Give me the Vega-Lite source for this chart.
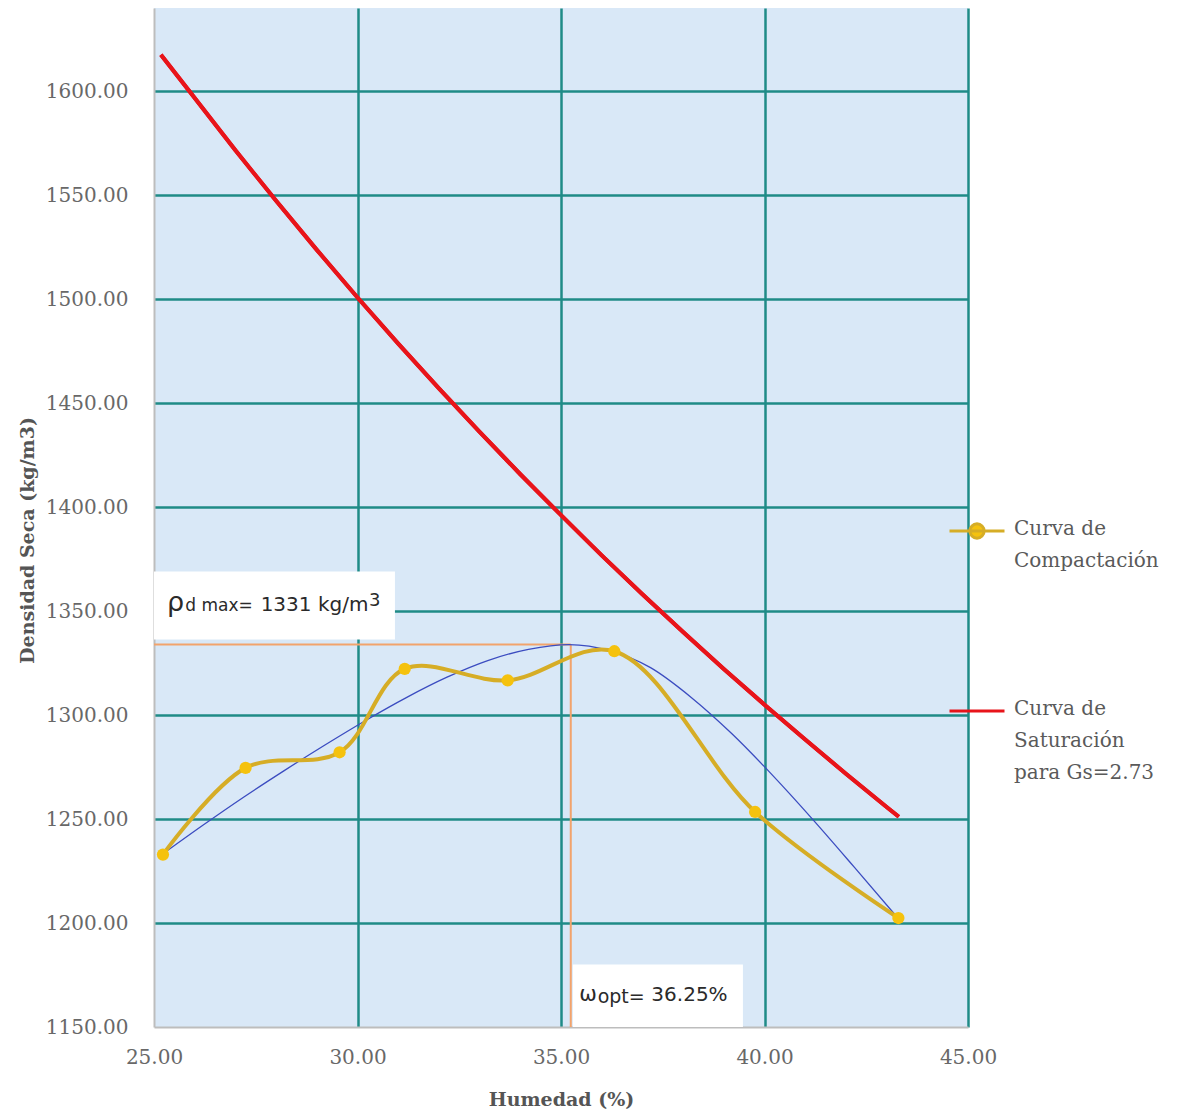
{
  "$schema": "https://vega.github.io/schema/vega-lite/v6.json",
  "width": 814,
  "height": 1019,
  "autosize": {"type": "none"},
  "padding": {"left": 154, "top": 8, "right": 227, "bottom": 91},
  "background": "white",
  "config": {
    "view": {"fill": "#d9e8f7", "stroke": null},
    "axis": {
      "labelFont": "DejaVu Serif",
      "labelFontSize": 20,
      "labelColor": "#686868",
      "ticks": false,
      "domainColor": "#bdbdbd",
      "domainWidth": 2,
      "gridWidth": 2.5,
      "titleFont": "DejaVu Serif",
      "titleFontWeight": "bold",
      "titleFontSize": 19,
      "titleColor": "#555555",
      "labelOverlap": false,
      "labelFlush": false
    }
  },
  "datasets": {
    "comp": [
      {"humedad": 25.22, "densidad": 1232.9, "serie": "Curva de Compactación"},
      {"humedad": 27.25, "densidad": 1274.6, "serie": "Curva de Compactación"},
      {"humedad": 29.56, "densidad": 1282.1, "serie": "Curva de Compactación"},
      {"humedad": 31.16, "densidad": 1322.2, "serie": "Curva de Compactación"},
      {"humedad": 33.69, "densidad": 1316.7, "serie": "Curva de Compactación"},
      {"humedad": 36.31, "densidad": 1330.7, "serie": "Curva de Compactación"},
      {"humedad": 39.77, "densidad": 1253.4, "serie": "Curva de Compactación"},
      {"humedad": 43.29, "densidad": 1202.4, "serie": "Curva de Compactación"}
    ],
    "sat": [
      {"humedad": 25.17, "densidad": 1617.5, "serie": "Curva de Saturación para Gs=2.73"},
      {"humedad": 26, "densidad": 1596.7, "serie": "Curva de Saturación para Gs=2.73"},
      {"humedad": 27, "densidad": 1571.6, "serie": "Curva de Saturación para Gs=2.73"},
      {"humedad": 28, "densidad": 1547.3, "serie": "Curva de Saturación para Gs=2.73"},
      {"humedad": 29, "densidad": 1523.7, "serie": "Curva de Saturación para Gs=2.73"},
      {"humedad": 30, "densidad": 1500.8, "serie": "Curva de Saturación para Gs=2.73"},
      {"humedad": 31, "densidad": 1478.6, "serie": "Curva de Saturación para Gs=2.73"},
      {"humedad": 32, "densidad": 1457.1, "serie": "Curva de Saturación para Gs=2.73"},
      {"humedad": 33, "densidad": 1436.2, "serie": "Curva de Saturación para Gs=2.73"},
      {"humedad": 34, "densidad": 1415.8, "serie": "Curva de Saturación para Gs=2.73"},
      {"humedad": 35, "densidad": 1396.1, "serie": "Curva de Saturación para Gs=2.73"},
      {"humedad": 36, "densidad": 1376.8, "serie": "Curva de Saturación para Gs=2.73"},
      {"humedad": 37, "densidad": 1358.1, "serie": "Curva de Saturación para Gs=2.73"},
      {"humedad": 38, "densidad": 1339.9, "serie": "Curva de Saturación para Gs=2.73"},
      {"humedad": 39, "densidad": 1322.2, "serie": "Curva de Saturación para Gs=2.73"},
      {"humedad": 40, "densidad": 1305.0, "serie": "Curva de Saturación para Gs=2.73"},
      {"humedad": 41, "densidad": 1288.2, "serie": "Curva de Saturación para Gs=2.73"},
      {"humedad": 42, "densidad": 1271.8, "serie": "Curva de Saturación para Gs=2.73"},
      {"humedad": 43, "densidad": 1255.8, "serie": "Curva de Saturación para Gs=2.73"},
      {"humedad": 43.3, "densidad": 1251.1, "serie": "Curva de Saturación para Gs=2.73"}
    ],
    "fit": [
      {"humedad": 25.2, "densidad": 1233},
      {"humedad": 26.2, "densidad": 1247},
      {"humedad": 27.2, "densidad": 1260.5},
      {"humedad": 28.2, "densidad": 1273.3},
      {"humedad": 29.2, "densidad": 1285.6},
      {"humedad": 30.2, "densidad": 1297.4},
      {"humedad": 31.2, "densidad": 1308.4},
      {"humedad": 32.2, "densidad": 1318.2},
      {"humedad": 33.2, "densidad": 1326.2},
      {"humedad": 34.2, "densidad": 1331.6},
      {"humedad": 35.2, "densidad": 1333.9},
      {"humedad": 36.2, "densidad": 1331.0},
      {"humedad": 37.2, "densidad": 1322.8},
      {"humedad": 38.2, "densidad": 1308.5},
      {"humedad": 39.2, "densidad": 1291.0},
      {"humedad": 40.2, "densidad": 1271.0},
      {"humedad": 41.2, "densidad": 1249.5},
      {"humedad": 42.2, "densidad": 1227.0},
      {"humedad": 43.25, "densidad": 1203.0}
    ]
  },
  "layer": [
    {
      "data": {"name": "sat"},
      "mark": {"type": "line", "strokeWidth": 4},
      "encoding": {
        "x": {
          "field": "humedad",
          "type": "quantitative",
          "scale": {"domain": [25, 45], "nice": false, "zero": false},
          "axis": {
            "values": [25, 30, 35, 40, 45],
            "format": ".2f",
            "title": "Humedad  (%)",
            "labelPadding": 20,
            "titlePadding": 23,
            "gridColor": {"condition": {"test": "datum.value === 25", "value": "rgba(0,0,0,0)"}, "value": "#1f8b87"}
          }
        },
        "y": {
          "field": "densidad",
          "type": "quantitative",
          "scale": {"domain": [1150, 1640], "nice": false, "zero": false},
          "axis": {
            "values": [1150, 1200, 1250, 1300, 1350, 1400, 1450, 1500, 1550, 1600],
            "format": ".2f",
            "title": "Densidad Seca (kg/m3)",
            "labelPadding": 26,
            "titlePadding": 8,
            "titleY": 532,
            "gridColor": {"condition": {"test": "datum.value === 1150", "value": "rgba(0,0,0,0)"}, "value": "#1f8b87"}
          }
        },
        "color": {
          "field": "serie",
          "type": "nominal",
          "scale": {
            "domain": ["Curva de Compactación", "Curva de Saturación para Gs=2.73"],
            "range": ["#d6ad26", "#e8141a"]
          },
          "legend": {
            "title": null,
            "orient": "none",
            "legendX": 794,
            "legendY": 494,
            "padding": 0,
            "labelFont": "DejaVu Serif",
            "labelFontSize": 20,
            "labelColor": "#5a5a5a",
            "labelLimit": 400,
            "labelOffset": 8,
            "labelBaseline": "top",
            "symbolType": "stroke",
            "symbolSize": 3025,
            "symbolStrokeWidth": 3,
            "rowPadding": 111,
            "labelExpr": "datum.label == 'Curva de Compactación' ? ['Curva de', 'Compactación'] : ['Curva de', 'Saturación', 'para Gs=2.73']",
            "encode": {
              "symbols": {
                "update": {
                  "shape": {"signal": "datum.value == 'Curva de Compactación' ? 'M-1,0H1M0.26,0A0.26,0.26,0,1,1,-0.26,0A0.26,0.26,0,1,1,0.26,0Z' : 'stroke'"},
                  "fill": {"signal": "datum.value == 'Curva de Compactación' ? '#f5c20e' : 'transparent'"}
                }
              },
              "labels": {
                "update": {
                  "font": {"value": "DejaVu Serif"},
                  "lineHeight": {"value": 32},
                  "dy": {"value": -12}
                }
              }
            }
          }
        }
      }
    },
    {
      "data": {"values": [{}]},
      "mark": {"type": "rect", "fill": "white"},
      "encoding": {
        "x": {"datum": 25, "type": "quantitative"},
        "x2": {"datum": 30.92},
        "y": {"datum": 1336.3, "type": "quantitative"},
        "y2": {"datum": 1369}
      }
    },
    {
      "data": {"values": [{}]},
      "mark": {"type": "rect", "fill": "white"},
      "encoding": {
        "x": {"datum": 35.29, "type": "quantitative"},
        "x2": {"datum": 39.47},
        "y": {"datum": 1150, "type": "quantitative"},
        "y2": {"datum": 1180}
      }
    },
    {
      "data": {"values": [{}]},
      "mark": {"type": "rule", "color": "#f2a36c", "strokeWidth": 2},
      "encoding": {
        "x": {"datum": 25, "type": "quantitative"},
        "x2": {"datum": 35.24},
        "y": {"datum": 1333.9, "type": "quantitative"}
      }
    },
    {
      "data": {"values": [{}]},
      "mark": {"type": "rule", "color": "#f2a36c", "strokeWidth": 2},
      "encoding": {
        "x": {"datum": 35.24, "type": "quantitative"},
        "y": {"datum": 1150, "type": "quantitative"},
        "y2": {"datum": 1333.9}
      }
    },
    {
      "data": {"name": "fit"},
      "mark": {"type": "line", "interpolate": "monotone", "color": "#3b4cc0", "strokeWidth": 1.3},
      "encoding": {
        "x": {"field": "humedad", "type": "quantitative"},
        "y": {"field": "densidad", "type": "quantitative"}
      }
    },
    {
      "data": {"name": "comp"},
      "mark": {"type": "line", "interpolate": "catmull-rom", "strokeWidth": 4},
      "encoding": {
        "x": {"field": "humedad", "type": "quantitative"},
        "y": {"field": "densidad", "type": "quantitative"},
        "color": {"field": "serie", "type": "nominal"}
      }
    },
    {
      "data": {"name": "comp"},
      "mark": {"type": "point", "filled": true, "color": "#f5c20e", "size": 150, "opacity": 1},
      "encoding": {
        "x": {"field": "humedad", "type": "quantitative"},
        "y": {"field": "densidad", "type": "quantitative"}
      }
    },
    {
      "data": {"name": "sat"},
      "mark": {"type": "line", "strokeWidth": 4},
      "encoding": {
        "x": {"field": "humedad", "type": "quantitative"},
        "y": {"field": "densidad", "type": "quantitative"},
        "color": {"field": "serie", "type": "nominal"}
      }
    },
    {
      "data": {"values": [{}]},
      "mark": {"type": "text", "font": "DejaVu Sans", "fontSize": 27, "color": "#2a2a2a", "align": "left", "baseline": "alphabetic"},
      "encoding": {
        "x": {"datum": 25.32, "type": "quantitative"},
        "y": {"datum": 1349.8, "type": "quantitative"},
        "text": {"value": "ρ"}
      }
    },
    {
      "data": {"values": [{}]},
      "mark": {"type": "text", "font": "DejaVu Sans", "fontSize": 17, "color": "#2a2a2a", "align": "left", "baseline": "alphabetic"},
      "encoding": {
        "x": {"datum": 25.77, "type": "quantitative"},
        "y": {"datum": 1349.8, "type": "quantitative"},
        "text": {"value": "d max="}
      }
    },
    {
      "data": {"values": [{}]},
      "mark": {"type": "text", "font": "DejaVu Sans", "fontSize": 20, "color": "#2a2a2a", "align": "left", "baseline": "alphabetic"},
      "encoding": {
        "x": {"datum": 27.62, "type": "quantitative"},
        "y": {"datum": 1349.8, "type": "quantitative"},
        "text": {"value": "1331  kg/m"}
      }
    },
    {
      "data": {"values": [{}]},
      "mark": {"type": "text", "font": "DejaVu Sans", "fontSize": 18, "color": "#2a2a2a", "align": "left", "baseline": "alphabetic"},
      "encoding": {
        "x": {"datum": 30.28, "type": "quantitative"},
        "y": {"datum": 1352.5, "type": "quantitative"},
        "text": {"value": "3"}
      }
    },
    {
      "data": {"values": [{}]},
      "mark": {"type": "text", "font": "DejaVu Sans", "fontSize": 21, "color": "#2a2a2a", "align": "left", "baseline": "alphabetic"},
      "encoding": {
        "x": {"datum": 35.45, "type": "quantitative"},
        "y": {"datum": 1162.5, "type": "quantitative"},
        "text": {"value": "ω"}
      }
    },
    {
      "data": {"values": [{}]},
      "mark": {"type": "text", "font": "DejaVu Sans", "fontSize": 19, "color": "#2a2a2a", "align": "left", "baseline": "alphabetic"},
      "encoding": {
        "x": {"datum": 35.9, "type": "quantitative"},
        "y": {"datum": 1161.5, "type": "quantitative"},
        "text": {"value": "opt="}
      }
    },
    {
      "data": {"values": [{}]},
      "mark": {"type": "text", "font": "DejaVu Sans", "fontSize": 20, "color": "#2a2a2a", "align": "left", "baseline": "alphabetic"},
      "encoding": {
        "x": {"datum": 37.22, "type": "quantitative"},
        "y": {"datum": 1162.5, "type": "quantitative"},
        "text": {"value": "36.25%"}
      }
    }
  ]
}
